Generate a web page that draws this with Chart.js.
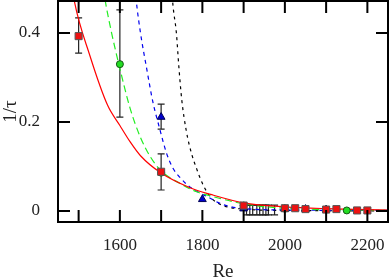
<!DOCTYPE html>
<html>
<head>
<meta charset="utf-8">
<script src="https://cdn.jsdelivr.net/npm/chart.js@4.4.1/dist/chart.umd.min.js"></script>
<style>
  html, body { margin: 0; padding: 0; background: #fff; }
</style>
</head>
<body>
<canvas id="chart" width="390" height="280"></canvas>
<script>
/* ---- axes ---- */
const X_TICKS  = [1500, 1600, 1700, 1800, 1900, 2000, 2100, 2200];
const X_LABELS = [1600, 1800, 2000, 2200];
const Y_TICKS  = [0, 0.2, 0.4];

/* ---- fitted curves ---- */
const RED_FIT_RE   = [1480, 1490, 1527, 1570, 1600, 1625, 1650, 1700, 1770, 1820, 1900, 2000, 2100, 2250];
const RED_FIT      = [0.53, 0.47, 0.35, 0.238, 0.192, 0.155, 0.124, 0.085, 0.052, 0.037, 0.018, 0.009, 0.005, 0.002];
const GREEN_FIT_RE = [1560, 1565, 1580, 1600, 1625, 1650, 1675, 1700, 1745, 1786, 1818, 1900, 2000, 2250];
const GREEN_FIT    = [0.50, 0.47, 0.40, 0.32, 0.23, 0.165, 0.12, 0.09, 0.062, 0.043, 0.034, 0.016, 0.006, 0.001];
const BLUE_FIT_RE  = [1637, 1640, 1650, 1665, 1680, 1695, 1713, 1728, 1745, 1764, 1788, 1818, 1840, 1870, 1900, 2000, 2250];
const BLUE_FIT     = [0.50, 0.47, 0.40, 0.32, 0.245, 0.19, 0.13, 0.097, 0.076, 0.058, 0.043, 0.029, 0.018, 0.009, 0.005, 0.002, 0.001];
const BLACK_FIT_RE = [1726, 1728, 1737, 1743, 1750, 1761, 1774, 1786, 1798, 1810, 1825, 1850, 1900, 2000, 2250];
const BLACK_FIT    = [0.50, 0.47, 0.40, 0.324, 0.25, 0.18, 0.128, 0.095, 0.066, 0.044, 0.026, 0.012, 0.004, 0.001, 0];

/* ---- measurements ---- */
const RED_RE    = [1500, 1700, 1900, 2000, 2025, 2050, 2100, 2125, 2175, 2200];
const RED_VAL   = [0.393, 0.088, 0.012, 0.006, 0.006, 0.004, 0.003, 0.004, 0.001, 0.001];
const GREEN_RE  = [1600, 1700, 1900, 2000, 2100, 2150];
const GREEN_VAL = [0.33, 0.086, 0.012, 0.005, 0.003, 0.001];
const BLUE_RE   = [1700, 1800, 1900, 2000, 2050, 2100];
const BLUE_VAL  = [0.211, 0.026, 0.005, 0.004, 0.004, 0.003];

/* ---- error bars ---- */
const ERR_RE = [1500, 1600, 1700, 1700, 1907, 1915, 1922, 1932, 1939, 1947, 1954, 1960, 1975];
const ERR_LO = [0.355, 0.211, 0.047, 0.184, -0.009, -0.009, -0.009, -0.009, -0.009, -0.009, -0.009, -0.009, -0.009];
const ERR_HI = [0.434, 0.452, 0.128, 0.240, 0.013, 0.013, 0.013, 0.013, 0.013, 0.013, 0.013, 0.013, 0.013];

const FONT = "'Liberation Serif', 'DejaVu Serif', serif";
const pts = (xs, ys) => xs.map((x, i) => ({x, y: ys[i]}));

// error bars, drawn under the markers
const errorBars = {
  id: "errorBars",
  beforeDatasetsDraw(chart){
    const {ctx, scales:{x, y}} = chart;
    ctx.save();
    ctx.strokeStyle = "#222"; ctx.lineWidth = 1.2;
    ERR_RE.forEach((re, i) => {
      const px = x.getPixelForValue(re);
      const lo = y.getPixelForValue(ERR_LO[i]), hi = y.getPixelForValue(ERR_HI[i]);
      ctx.beginPath();
      ctx.moveTo(px, lo); ctx.lineTo(px, hi);
      ctx.moveTo(px - 3.5, lo); ctx.lineTo(px + 3.5, lo);
      ctx.moveTo(px - 3.5, hi); ctx.lineTo(px + 3.5, hi);
      ctx.stroke();
    });
    ctx.restore();
  }
};

// frame + inward ticks on all four sides
const frame = {
  id: "frame",
  afterDraw(chart){
    const {ctx, chartArea:a, scales:{x, y}} = chart;
    const L = 12;
    ctx.save();
    ctx.strokeStyle = "#000"; ctx.lineWidth = 2;
    ctx.strokeRect(a.left, a.top, a.right - a.left, a.bottom - a.top);
    ctx.beginPath();
    X_TICKS.forEach(v => {
      const px = x.getPixelForValue(v);
      ctx.moveTo(px, a.bottom); ctx.lineTo(px, a.bottom - L);
      ctx.moveTo(px, a.top);    ctx.lineTo(px, a.top + L);
    });
    Y_TICKS.forEach(v => {
      const py = y.getPixelForValue(v);
      ctx.moveTo(a.left, py);  ctx.lineTo(a.left + L, py);
      ctx.moveTo(a.right, py); ctx.lineTo(a.right - L, py);
    });
    ctx.stroke();
    ctx.restore();
  }
};

const curve = (xs, ys, color, dash) => ({
  data: pts(xs, ys), showLine: true, pointRadius: 0, borderColor: color,
  borderWidth: 1.2, borderDash: dash, cubicInterpolationMode: "monotone", order: 2
});
const marks = (xs, ys, style, r, fill, edge) => ({
  data: pts(xs, ys), showLine: false, pointStyle: style, pointRadius: r,
  backgroundColor: fill, borderColor: edge, borderWidth: 1, order: 1
});

new Chart(document.getElementById("chart"), {
  type: "scatter",
  data: {
    datasets: [
      marks(RED_RE, RED_VAL, "rect", 5, "#ee1111", "#555"),
      marks(GREEN_RE, GREEN_VAL, "circle", 3.5, "#22dd22", "#135513"),
      marks(BLUE_RE, BLUE_VAL, "triangle", 4.5, "#0000cc", "#000055"),
      curve(RED_FIT_RE, RED_FIT, "#ff0000", []),
      curve(GREEN_FIT_RE, GREEN_FIT, "#22ee22", [7, 4]),
      curve(BLUE_FIT_RE, BLUE_FIT, "#0000ee", [4, 4]),
      curve(BLACK_FIT_RE, BLACK_FIT, "#000", [3, 4])
    ]
  },
  options: {
    responsive: false, animation: false, devicePixelRatio: 1,
    layout: { autoPadding: false, padding: { top: 1, right: 2, left: 0, bottom: 0 } },
    plugins: { legend: { display: false }, tooltip: { enabled: false } },
    scales: {
      x: {
        type: "linear", min: 1450, max: 2250,
        afterBuildTicks: s => { s.ticks = X_TICKS.map(v => ({value: v})); },
        afterFit: s => { s.height = 58; s.paddingLeft = 0; s.paddingRight = 0; },
        grid: { display: false }, border: { display: false },
        ticks: {
          autoSkip: false, maxRotation: 0, padding: 5, color: "#222",
          font: { family: FONT, size: 17 },
          callback: v => X_LABELS.includes(v) ? String(v) : ""
        },
        title: { display: true, text: "Re", color: "#222", font: { family: FONT, size: 19, lineHeight: 0.8 }, padding: { top: 0, bottom: 0 } }
      },
      y: {
        type: "linear", min: -0.025, max: 0.472,
        afterBuildTicks: s => { s.ticks = Y_TICKS.map(v => ({value: v})); },
        afterFit: s => { s.width = 58; s.paddingTop = 0; s.paddingBottom = 0; },
        grid: { display: false }, border: { display: false },
        ticks: {
          padding: 10, color: "#222", font: { family: FONT, size: 17 },
          callback: v => v === 0 ? "0" : v.toFixed(1)
        },
        title: { display: true, text: "1/τ", color: "#222", font: { family: FONT, size: 19 }, padding: { top: 0, bottom: 0 } }
      }
    }
  },
  plugins: [errorBars, frame]
});
</script>
</body>
</html>
